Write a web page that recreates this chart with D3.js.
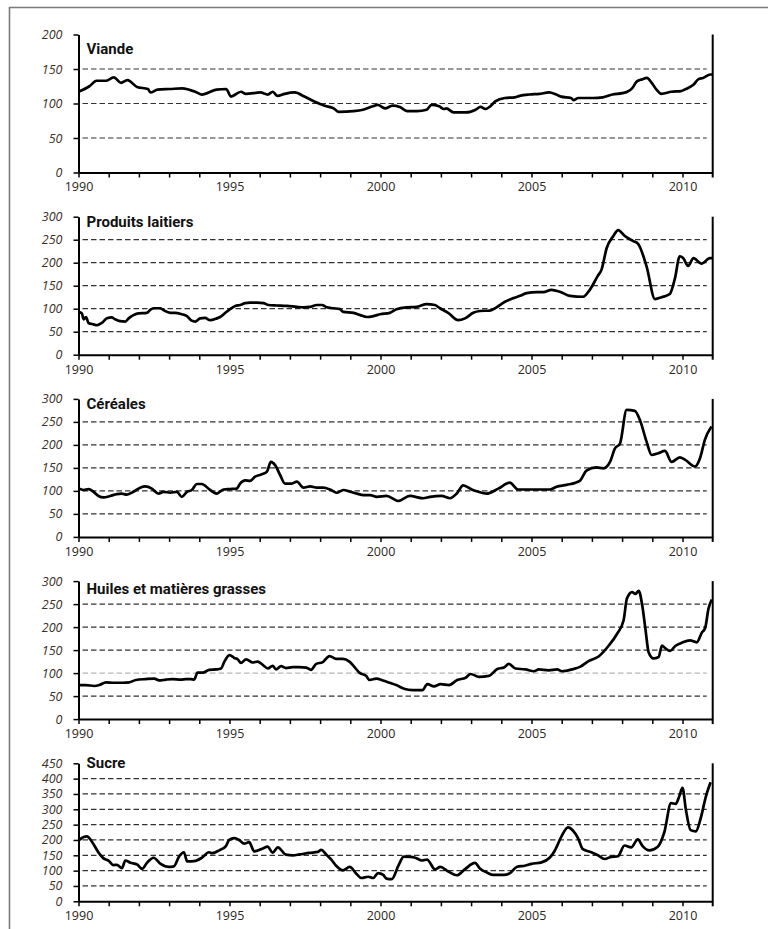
<!DOCTYPE html>
<html>
<head>
<meta charset="utf-8">
<script src="https://cdn.jsdelivr.net/npm/d3@7/dist/d3.min.js"></script>
<style>
body { margin: 0; background: #fff; }
</style>
</head>
<body>
<div id="canvas"></div>
<script>
"use strict"

let svgWidth = 768
let svgHeight = 929

/* Data: [year, index value] */
let viande = [
    [1990.0,117],[1990.36,125],[1990.6,133],[1990.92,133],[1991.17,138],[1991.41,130],
    [1991.62,134],[1991.94,124],[1992.3,121],[1992.38,116],[1992.62,120],[1993.03,121],
    [1993.43,122],[1993.92,116],[1994.08,113],[1994.57,120],[1994.89,121],[1995.05,110],
    [1995.38,117],[1995.54,114],[1996.02,116],[1996.27,113],[1996.43,117],[1996.59,111],
    [1996.83,114],[1997.16,116],[1997.48,110],[1997.81,103],[1998.13,97],[1998.45,93],
    [1998.62,88],[1999.1,89],[1999.42,91],[1999.75,96],[1999.91,98],[2000.15,93],
    [2000.4,97],[2000.64,95],[2000.88,89],[2001.21,89],[2001.53,91],[2001.69,98],
    [2001.94,96],[2002.1,92],[2002.18,93],[2002.42,87],[2002.83,87],[2003.15,91],
    [2003.31,95],[2003.47,92],[2003.64,96],[2003.8,103],[2004.12,108],[2004.45,109],
    [2004.61,111],[2004.93,113],[2005.26,114],[2005.58,116],[2005.82,113],[2005.98,110],
    [2006.31,108],[2006.39,105],[2006.55,108],[2007.04,108],[2007.36,109],[2007.68,113],
    [2008.01,115],[2008.17,117],[2008.33,122],[2008.49,132],[2008.66,135],[2008.82,137],
    [2008.98,130],[2009.14,120],[2009.3,114],[2009.63,117],[2009.95,118],[2010.11,121],
    [2010.36,127],[2010.52,135],[2010.68,137],[2010.92,142],[2011.0,142]
]

let laitiers = [
    [1990.0,93],[1990.11,90],[1990.17,77],[1990.25,82],[1990.33,69],[1990.5,66],
    [1990.61,64],[1990.77,69],[1990.94,79],[1991.1,81],[1991.21,77],[1991.38,73],
    [1991.55,72],[1991.66,79],[1991.82,86],[1991.99,90],[1992.26,91],[1992.37,97],
    [1992.48,101],[1992.7,101],[1992.81,97],[1993.04,91],[1993.2,91],[1993.42,88],
    [1993.59,84],[1993.75,74],[1993.86,72],[1994.03,79],[1994.19,80],[1994.36,75],
    [1994.58,79],[1994.69,82],[1994.86,91],[1995.02,99],[1995.19,106],[1995.35,108],
    [1995.52,112],[1995.68,113],[1995.91,113],[1996.13,112],[1996.29,108],[1996.57,107],
    [1996.9,106],[1997.23,104],[1997.45,103],[1997.67,104],[1997.89,108],[1998.06,108],
    [1998.22,103],[1998.44,101],[1998.66,99],[1998.77,93],[1999.11,91],[1999.33,86],
    [1999.55,82],[1999.77,84],[1999.99,88],[2000.31,91],[2000.53,99],[2000.86,103],
    [2001.19,104],[2001.53,110],[2001.8,108],[2001.97,101],[2002.24,91],[2002.57,75],
    [2002.8,79],[2003.07,91],[2003.29,95],[2003.62,96],[2003.84,103],[2004.12,115],
    [2004.4,123],[2004.62,128],[2004.84,134],[2005.17,136],[2005.39,136],[2005.66,141],
    [2005.94,137],[2006.27,128],[2006.71,126],[2006.93,141],[2007.2,172],[2007.32,185],
    [2007.49,232],[2007.71,258],[2007.87,271],[2008.09,258],[2008.37,247],[2008.53,241],
    [2008.81,192],[2009.09,121],[2009.31,125],[2009.58,132],[2009.75,166],[2009.91,214],
    [2010.02,210],[2010.19,193],[2010.36,210],[2010.63,198],[2010.91,210],[2011.0,210]
]

let cereales = [
    [1990.0,105],[1990.17,102],[1990.33,104],[1990.5,98],[1990.66,89],[1990.83,86],
    [1991.05,89],[1991.27,93],[1991.43,94],[1991.6,92],[1991.82,98],[1992.04,107],
    [1992.21,110],[1992.43,105],[1992.65,94],[1992.81,98],[1993.04,96],[1993.26,98],
    [1993.42,87],[1993.59,98],[1993.75,102],[1993.92,115],[1994.08,115],[1994.36,102],
    [1994.58,94],[1994.8,103],[1995.02,104],[1995.24,105],[1995.35,116],[1995.52,123],
    [1995.68,122],[1995.85,131],[1996.07,136],[1996.24,142],[1996.37,163],[1996.51,156],
    [1996.68,134],[1996.84,116],[1997.06,116],[1997.23,120],[1997.45,107],[1997.67,110],
    [1997.89,107],[1998.11,107],[1998.33,103],[1998.55,96],[1998.77,102],[1999.0,98],
    [1999.22,94],[1999.44,91],[1999.66,91],[1999.88,87],[2000.2,89],[2000.59,78],
    [2000.97,89],[2001.41,84],[2001.64,87],[2002.02,89],[2002.3,84],[2002.52,94],
    [2002.74,112],[2003.02,103],[2003.24,98],[2003.51,94],[2003.9,105],[2004.28,118],
    [2004.56,103],[2005.06,103],[2005.61,103],[2005.83,109],[2006.16,113],[2006.6,122],
    [2006.82,144],[2007.15,151],[2007.38,149],[2007.6,163],[2007.76,192],[2007.93,203],
    [2008.15,276],[2008.42,274],[2008.59,254],[2008.81,207],[2008.98,178],[2009.2,182],
    [2009.42,187],[2009.64,163],[2009.91,173],[2010.08,168],[2010.41,153],[2010.58,171],
    [2010.74,211],[2010.96,240]
]

let huiles = [
    [1990.0,74],[1990.24,74],[1990.52,72],[1990.69,74],[1990.91,80],[1991.18,79],
    [1991.46,79],[1991.68,80],[1991.9,85],[1992.23,87],[1992.51,88],[1992.67,84],
    [1992.9,86],[1993.12,87],[1993.39,86],[1993.56,87],[1993.72,87],[1993.83,86],
    [1993.94,101],[1994.11,101],[1994.33,107],[1994.55,108],[1994.72,110],[1994.83,125],
    [1995.0,139],[1995.16,133],[1995.27,130],[1995.38,122],[1995.55,130],[1995.77,123],
    [1995.93,125],[1996.1,118],[1996.27,110],[1996.43,116],[1996.54,108],[1996.71,115],
    [1996.87,111],[1997.09,113],[1997.31,113],[1997.54,112],[1997.7,107],[1997.87,120],
    [1998.09,124],[1998.31,137],[1998.53,131],[1998.75,131],[1998.97,125],[1999.14,113],
    [1999.3,101],[1999.52,94],[1999.64,85],[1999.86,88],[2000.08,84],[2000.3,79],
    [2000.52,74],[2000.78,66],[2001.06,63],[2001.39,63],[2001.55,76],[2001.77,71],
    [2001.99,76],[2002.27,74],[2002.54,85],[2002.82,90],[2002.98,98],[2003.26,92],
    [2003.59,94],[2003.87,109],[2004.09,112],[2004.25,120],[2004.47,110],[2004.8,108],
    [2005.08,104],[2005.24,108],[2005.57,106],[2005.85,108],[2006.01,104],[2006.34,108],
    [2006.62,114],[2006.89,126],[2007.22,136],[2007.56,160],[2007.83,185],[2008.05,215],
    [2008.16,262],[2008.33,276],[2008.44,272],[2008.55,279],[2008.66,250],[2008.77,197],
    [2008.88,145],[2009.04,132],[2009.21,135],[2009.32,160],[2009.43,154],[2009.59,148],
    [2009.76,159],[2009.98,166],[2010.25,171],[2010.47,167],[2010.64,188],[2010.75,198],
    [2010.86,240],[2010.97,260]
]

let sucre = [
    [1990.0,198],[1990.17,210],[1990.28,212],[1990.44,195],[1990.67,158],[1990.83,140],
    [1991.0,132],[1991.16,118],[1991.27,119],[1991.44,108],[1991.55,133],[1991.72,126],
    [1991.94,120],[1992.11,106],[1992.27,126],[1992.49,142],[1992.72,122],[1992.99,112],
    [1993.16,114],[1993.33,146],[1993.49,160],[1993.6,130],[1993.88,132],[1994.1,143],
    [1994.32,160],[1994.43,157],[1994.66,166],[1994.88,180],[1994.99,200],[1995.16,206],
    [1995.32,200],[1995.49,188],[1995.65,193],[1995.82,163],[1996.1,172],[1996.26,178],
    [1996.43,159],[1996.6,176],[1996.87,152],[1997.1,150],[1997.32,153],[1997.65,158],
    [1997.93,161],[1998.04,168],[1998.2,153],[1998.37,136],[1998.54,115],[1998.76,101],
    [1998.98,112],[1999.2,90],[1999.37,76],[1999.59,80],[1999.76,76],[1999.92,92],
    [2000.09,86],[2000.2,74],[2000.37,72],[2000.6,118],[2000.77,146],[2000.99,145],
    [2001.15,142],[2001.37,133],[2001.54,136],[2001.81,104],[2001.98,112],[2002.25,97],
    [2002.53,85],[2002.8,105],[2003.13,125],[2003.3,106],[2003.52,94],[2003.74,86],
    [2004.07,86],[2004.29,92],[2004.51,112],[2004.78,116],[2005.0,122],[2005.33,127],
    [2005.6,142],[2005.77,165],[2005.99,211],[2006.21,241],[2006.37,231],[2006.54,206],
    [2006.7,170],[2006.98,160],[2007.2,150],[2007.42,138],[2007.64,145],[2007.86,147],
    [2008.08,182],[2008.3,176],[2008.52,202],[2008.68,180],[2008.9,166],[2009.18,178],
    [2009.4,226],[2009.62,320],[2009.78,318],[2009.89,342],[2010.0,370],[2010.11,300],
    [2010.27,232],[2010.44,228],[2010.6,270],[2010.77,340],[2010.93,388]
]

/* Titles and tick labels */
let titles = ["Viande", "Produits laitiers", "Céréales", "Huiles et matières grasses", "Sucre"]
let seriesList = [viande, laitiers, cereales, huiles, sucre]
let yTicks = [
    [0, 50, 100, 150, 200],
    [0, 50, 100, 150, 200, 250, 300],
    [0, 50, 100, 150, 200, 250, 300],
    [0, 50, 100, 150, 200, 250, 300],
    [0, 50, 100, 150, 200, 250, 300, 350, 400, 450]
]
let yearTicks = d3.range(1990, 2011)
let yearLabels = [1990, 1995, 2000, 2005, 2010]

/* Layout */
let left = 78.5
let right = 712.7
let panelTop = 34.5
let panelStep = 182.2
let panelHeight = 138
let titleDy = [19, 10, 10, 13, 5] // title baseline below the panel top

let svg = d3.select("#canvas")
    .append("svg")
    .attr("width", svgWidth)
    .attr("height", svgHeight)

/* page frame (top and left edge) */
svg.append("path")
    .attr("d", "M9.5," + svgHeight + "V7.5H" + svgWidth)
    .attr("fill", "none")
    .attr("stroke", "#7a7a7a")
    .attr("stroke-width", 1.6)

let xScale = d3.scaleLinear()
    .domain([1990, 2011])
    .range([left, right])

titles.forEach(function(title, i) {
    let top = panelTop + i * panelStep
    let ticks = yTicks[i]
    let yMax = ticks[ticks.length - 1]

    let yScale = d3.scaleLinear()
        .domain([0, yMax])
        .range([top + panelHeight, top])

    let g = svg.append("g")

    // dashed grid lines
    g.selectAll("line.grid")
        .data(ticks.slice(1, -1))
        .join("line")
        .attr("class", "grid")
        .attr("x1", left + 4)
        .attr("x2", right - 6)
        .attr("y1", function(d) { return yScale(d) })
        .attr("y2", function(d) { return yScale(d) })
        .attr("stroke", function(d) { return (i == 3 && d == 100) ? "#9a9a9a" : "#333" })
        .attr("stroke-width", function(d) { return (i == 3 && d == 100) ? 0.9 : 1.2 })
        .attr("stroke-dasharray", "5.5,3")

    // y axis
    let yAxis = g.append("g")
        .attr("transform", "translate(" + left + ",0)")
        .call(d3.axisLeft(yScale).tickValues(ticks).tickSize(5).tickSizeOuter(0).tickPadding(11))
    yAxis.select(".domain").attr("stroke-width", 2)
    yAxis.selectAll(".tick line").attr("stroke-width", 1.5)
    yAxis.selectAll("text")
        .attr("font-family", "'Open Sans', sans-serif")
        .attr("font-style", "italic")
        .attr("font-size", 12.5)
        .attr("fill", "#3b3026")

    // x axis
    let xAxis = g.append("g")
        .attr("transform", "translate(0," + (top + panelHeight) + ")")
        .call(d3.axisBottom(xScale).tickValues(yearTicks).tickSize(5).tickSizeOuter(0).tickPadding(5)
            .tickFormat(function(d) { return yearLabels.includes(d) ? d : "" }))
    xAxis.select(".domain").attr("stroke-width", 2)
    xAxis.selectAll(".tick line").attr("stroke-width", 1.5)
    xAxis.selectAll("text")
        .attr("font-family", "'Open Sans', sans-serif")
        .attr("font-size", 12.5)
        .attr("fill", "#2b2620")

    // right edge
    g.append("line")
        .attr("x1", xScale(2011))
        .attr("x2", xScale(2011))
        .attr("y1", top)
        .attr("y2", top + panelHeight + 5)
        .attr("stroke", "black")
        .attr("stroke-width", 2)

    // series line
    let line = d3.line()
        .x(function(d) { return xScale(d[0]) })
        .y(function(d) { return yScale(d[1]) })
        .curve(d3.curveMonotoneX)

    g.append("path")
        .datum(seriesList[i])
        .attr("d", line)
        .attr("fill", "none")
        .attr("stroke", "black")
        .attr("stroke-width", 2.7)
        .attr("stroke-linejoin", "round")

    // title
    g.append("text")
        .attr("x", left + 8)
        .attr("y", top + titleDy[i])
        .attr("font-family", "Roboto, sans-serif")
        .attr("font-weight", "bold")
        .attr("font-size", 15)
        .attr("fill", "#111")
        .text(title)
})
</script>
</body>
</html>
